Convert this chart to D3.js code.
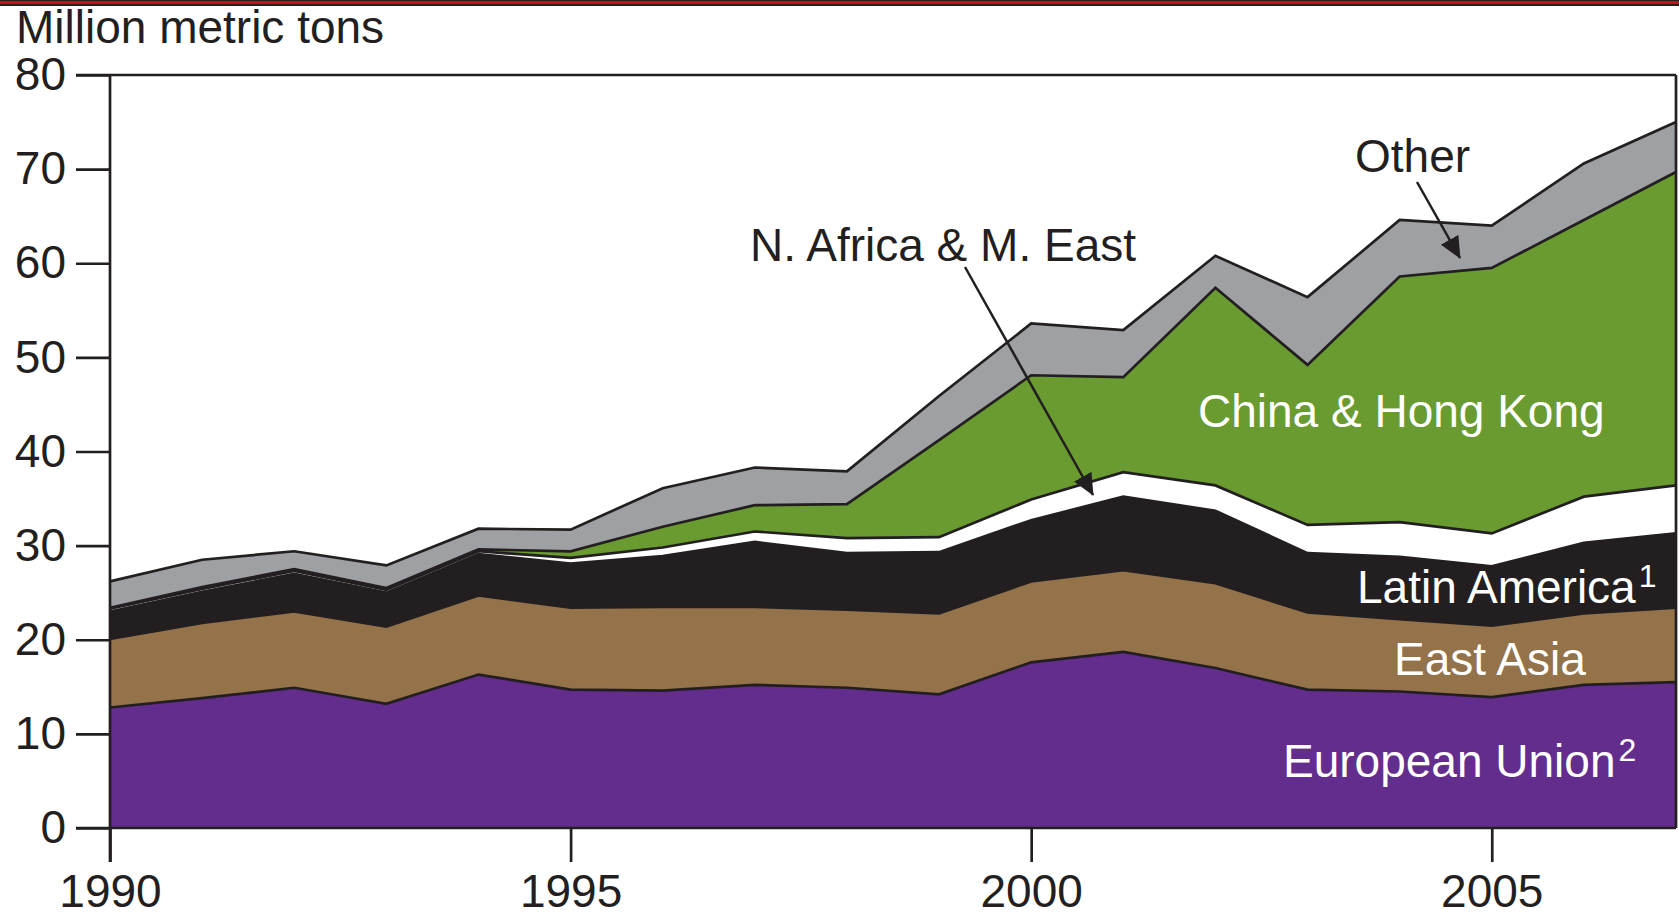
<!DOCTYPE html>
<html>
<head>
<meta charset="utf-8">
<script src="https://cdn.jsdelivr.net/npm/d3@7/dist/d3.min.js"></script>
<style>
  html, body { margin: 0; padding: 0; background: #ffffff; }
  svg { display: block; }
  text { font-family: "Liberation Sans", Arial, Helvetica, sans-serif; }
</style>
</head>
<body>
<svg id="chart" width="1679" height="916"></svg>
<script>
// ---------- data (million metric tons) ----------
const years = [1990, 1991, 1992, 1993, 1994, 1995, 1996, 1997, 1998, 1999,
               2000, 2001, 2002, 2003, 2004, 2005, 2006, 2007];
const europeanUnion = [12.8, 13.8, 14.9, 13.2, 16.3, 14.7, 14.6, 15.2, 14.9, 14.2,
                       17.6, 18.7, 17.0, 14.7, 14.5, 13.9, 15.2, 15.5];
const eastAsia      = [7.3, 8.0, 8.1, 8.2, 8.4, 8.7, 8.9, 8.3, 8.3, 8.6,
                       8.6, 8.7, 9.0, 8.2, 7.7, 7.6, 7.6, 7.9];
const latinAmerica  = [2.9, 3.3, 4.0, 3.6, 4.4, 4.7, 5.4, 6.9, 6.0, 6.5,
                       6.5, 7.8, 7.7, 6.3, 6.6, 6.3, 7.5, 7.9];
const nAfricaMEast  = [0.3, 0.3, 0.3, 0.3, 0.3, 0.6, 0.9, 1.1, 1.6, 1.6,
                       2.2, 2.6, 2.7, 3.0, 3.7, 3.5, 4.9, 5.1];
const chinaHongKong = [0.1, 0.2, 0.2, 0.2, 0.2, 0.7, 2.2, 2.8, 3.6, 10.3,
                       13.2, 10.1, 21.0, 17.0, 26.1, 28.2, 29.4, 33.3];
const other         = [2.8, 2.9, 1.9, 2.4, 2.2, 2.3, 4.1, 4.0, 3.5, 4.7,
                       5.5, 5.0, 3.4, 7.2, 6.0, 4.5, 6.0, 5.3];

const seriesKeys = ["eu", "eastAsia", "latinAmerica", "nAfrica", "china", "other"];
const seriesColors = ["#632d8d", "#94724a", "#231f20", "#ffffff", "#6a9b31", "#9fa0a3"];
const yTicks = [0, 10, 20, 30, 40, 50, 60, 70, 80];
const xTicks = [1990, 1995, 2000, 2005];
const yTitle = "Million metric tons";

// ---------- build table ----------
const table = years.map((yr, i) => ({
  year: yr,
  eu: europeanUnion[i],
  eastAsia: eastAsia[i],
  latinAmerica: latinAmerica[i],
  nAfrica: nAfricaMEast[i],
  china: chinaHongKong[i],
  other: other[i]
}));

const INK = "#231f20";
const svg = d3.select("#chart");

// top red band
svg.append("rect").attr("x", 0).attr("y", 0).attr("width", 1679).attr("height", 6).attr("fill", INK);
svg.append("rect").attr("x", 0).attr("y", 1).attr("width", 1679).attr("height", 3).attr("fill", "#c8101e");

const x = d3.scaleLinear().domain([1990, 2007]).range([110, 1676]);
const y = d3.scaleLinear().domain([0, 80]).range([828, 75]);

const stack = d3.stack().keys(seriesKeys);
const layers = stack(table);

const area = d3.area()
  .x(d => x(d.data.year))
  .y0(d => y(d[0]))
  .y1(d => y(d[1]));

const topLine = d3.line()
  .x(d => x(d.data.year))
  .y(d => y(d[1]));

const g = svg.append("g");
g.selectAll("path.area")
  .data(layers)
  .join("path")
  .attr("class", "area")
  .attr("d", area)
  .attr("fill", (d, i) => seriesColors[i]);

g.selectAll("path.top")
  .data(layers)
  .join("path")
  .attr("class", "top")
  .attr("d", topLine)
  .attr("fill", "none")
  .attr("stroke", INK)
  .attr("stroke-width", 2.7)
  .attr("stroke-linejoin", "miter");

// ---------- axes ----------
const yAxis = d3.axisLeft(y).tickValues(yTicks).tickSize(34).tickPadding(10).tickFormat(d3.format("d"));
const yg = svg.append("g").attr("transform", `translate(${x(1990)},0)`).call(yAxis);
yg.select(".domain").remove();
yg.selectAll("line").attr("stroke", INK).attr("stroke-width", 2.7);
yg.selectAll("text").attr("fill", INK).attr("font-size", 46)
  .attr("font-family", "'Liberation Sans', Arial, sans-serif");

const xAxis = d3.axisBottom(x).tickValues(xTicks).tickSize(34).tickPadding(12).tickFormat(d3.format("d"));
const xg = svg.append("g").attr("transform", `translate(0,${y(0)})`).call(xAxis);
xg.select(".domain").remove();
xg.selectAll("line").attr("stroke", INK).attr("stroke-width", 2.7);
xg.selectAll("text").attr("fill", INK).attr("font-size", 46)
  .attr("font-family", "'Liberation Sans', Arial, sans-serif");

// frame
const frame = svg.append("g").attr("stroke", INK).attr("stroke-width", 2.7).attr("fill", "none");
frame.append("line").attr("x1", x(1990)).attr("x2", x(1990)).attr("y1", y(80)).attr("y2", y(0) + 34);
frame.append("line").attr("x1", x(1990) - 34).attr("x2", x(2007)).attr("y1", y(0)).attr("y2", y(0));
frame.append("line").attr("x1", x(1990) - 34).attr("x2", x(2007)).attr("y1", y(80)).attr("y2", y(80));
frame.append("line").attr("x1", x(2007)).attr("x2", x(2007)).attr("y1", y(80)).attr("y2", y(0));

// y title
svg.append("text").attr("x", 16).attr("y", 43).attr("font-size", 46).attr("fill", INK).text(yTitle);

// ---------- labels ----------
function label(txt, xx, yy, color, sup) {
  const t = svg.append("text").attr("x", xx).attr("y", yy).attr("font-size", 46).attr("fill", color);
  t.append("tspan").text(txt);
  if (sup) {
    t.append("tspan").attr("font-size", 32).attr("dy", -16).attr("dx", 3).text(sup);
  }
  return t;
}
label("China & Hong Kong", 1198, 427, "#ffffff");
label("Latin America", 1357, 603, "#ffffff", "1");
label("East Asia", 1394, 675, "#ffffff");
label("European Union", 1283, 777, "#ffffff", "2");
label("Other", 1355, 172, INK);
label("N. Africa & M. East", 750, 261, INK);

// arrows
const defs = svg.append("defs");
defs.append("marker")
  .attr("id", "arrow")
  .attr("markerUnits", "userSpaceOnUse")
  .attr("markerWidth", 22).attr("markerHeight", 20)
  .attr("refX", 21).attr("refY", 10)
  .attr("orient", "auto")
  .append("path").attr("d", "M0,0 L22,10 L0,20 Z").attr("fill", INK);

svg.append("line").attr("x1", 965).attr("y1", 267).attr("x2", 1093).attr("y2", 495)
  .attr("stroke", INK).attr("stroke-width", 2.5).attr("marker-end", "url(#arrow)");
svg.append("line").attr("x1", 1417).attr("y1", 182).attr("x2", 1460).attr("y2", 258)
  .attr("stroke", INK).attr("stroke-width", 2.5).attr("marker-end", "url(#arrow)");
</script>
</body>
</html>
